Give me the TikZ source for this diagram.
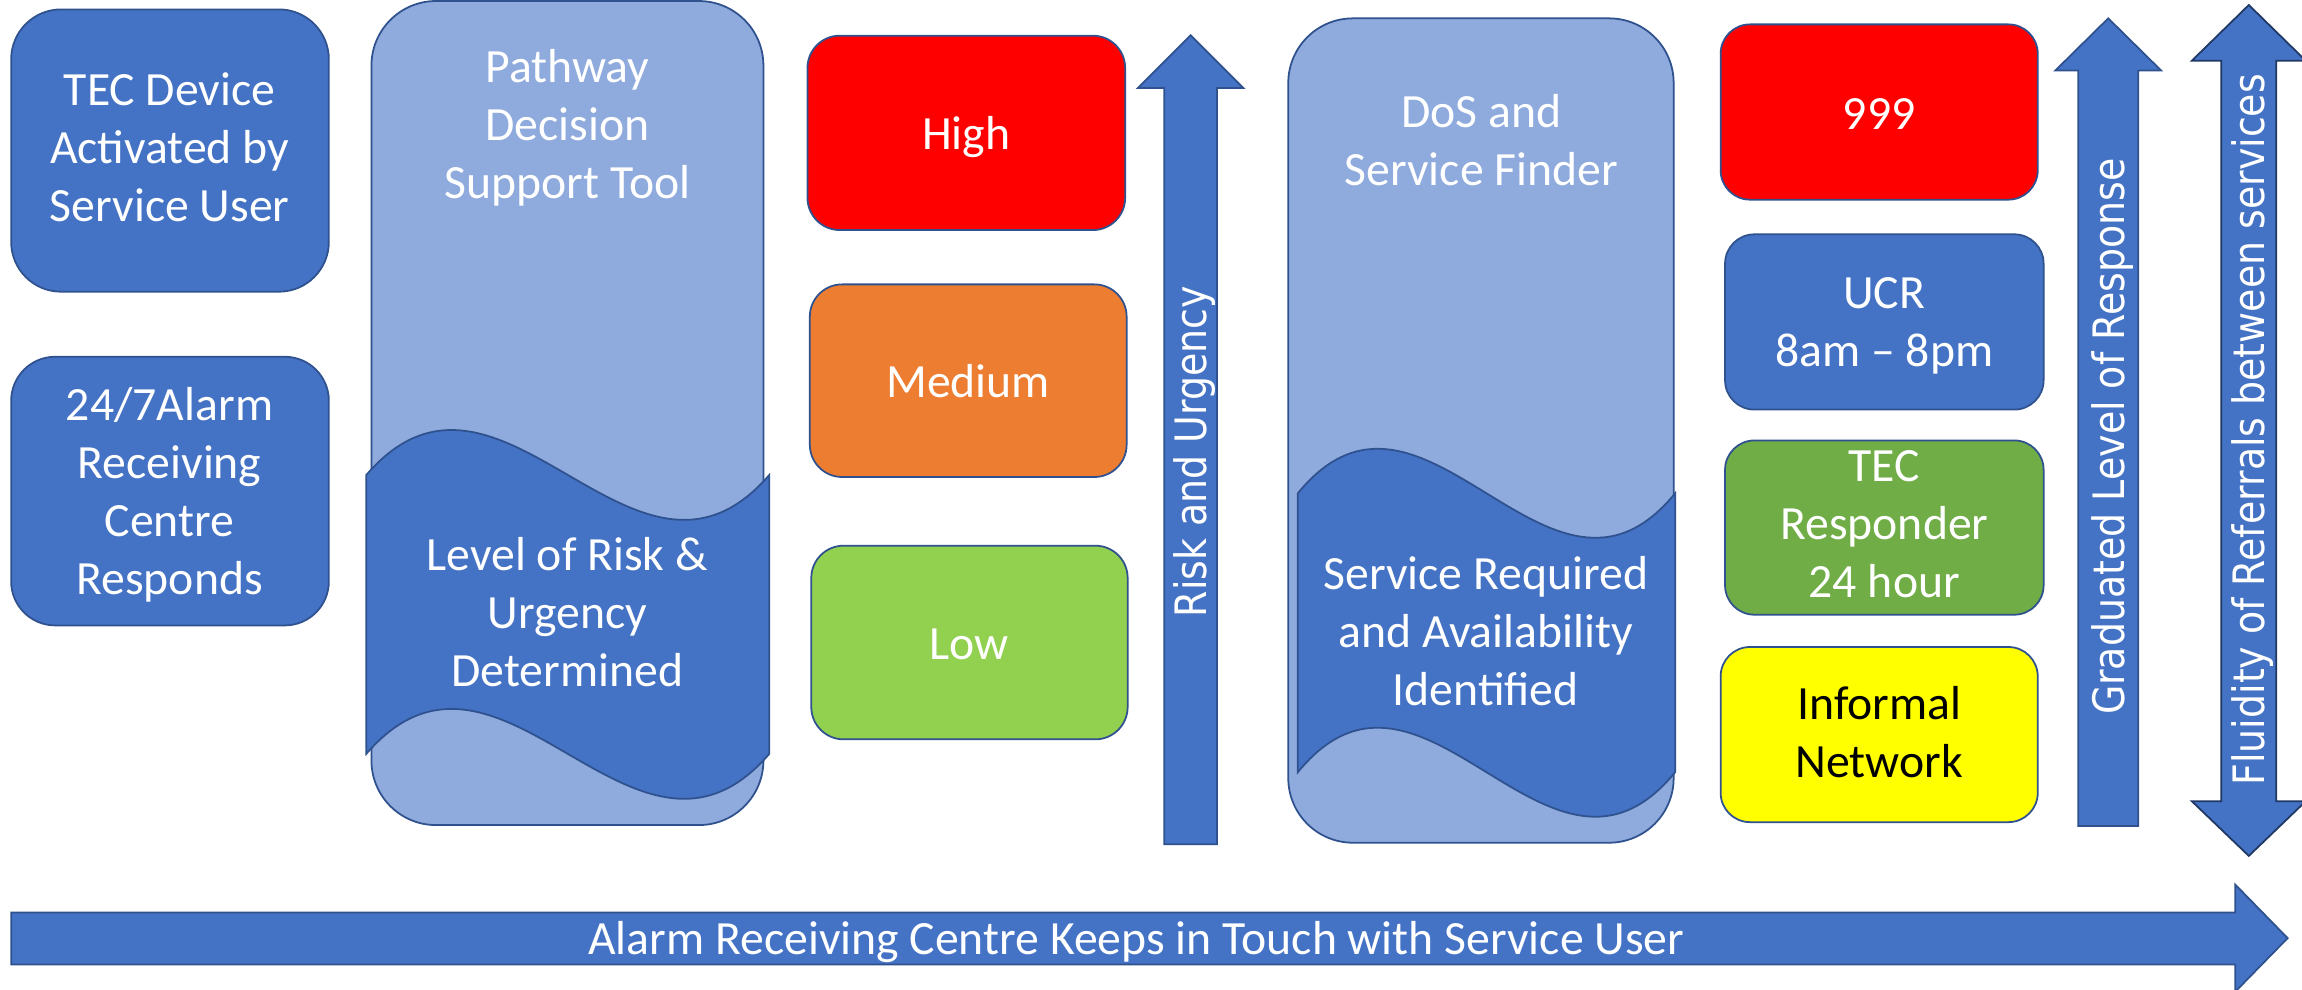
\documentclass[tikz,border=0pt]{standalone}
\usepackage{fontspec}
\usepackage{graphicx}
\setmainfont{Carlito}
\newfontfamily\arrowfont{DejaVu Sans}
\definecolor{dblue}{HTML}{4472C4}
\definecolor{lblue}{HTML}{8FAADC}
\definecolor{bord}{HTML}{2F528F}
\definecolor{navy}{HTML}{203864}
\definecolor{hred}{HTML}{FF0000}
\definecolor{morange}{HTML}{ED7D31}
\definecolor{lgreen}{HTML}{92D050}
\definecolor{tgreen}{HTML}{70AD47}
\definecolor{iyellow}{HTML}{FFFF00}
\begin{document}
\begin{tikzpicture}[x=1pt,y=-1pt,
  box/.style={draw=bord, line width=1.2pt, inner sep=0pt, rectangle},
  txt/.style={text=white, align=center, inner sep=0pt,
    font=\fontsize{32.5}{39.5}\selectfont,
    execute at begin node=\strut, execute at end node=\strut},
  vtxt/.style={rotate=90, text=white, inner sep=0pt, anchor=base,
    font=\arrowfont\fontsize{29.5}{35}\selectfont},
  arrowshape/.style={draw=bord, line width=1.2pt, fill=dblue},
  band/.style={draw=bord, line width=1.2pt, fill=dblue}]
\useasboundingbox (0,0) rectangle (1568,674.3);
\fill[white] (0,0) rectangle (1568,674.3);

% left column
\node[box, fill=dblue, minimum width=216.4pt, minimum height=192.3pt, rounded corners=34pt] (tec) at (115.8,102.55) {};
\node[txt] (tect) at (115.5,106) {TEC Device\\Activated by\\Service User};
\node[box, fill=dblue, minimum width=216.4pt, minimum height=183pt, rounded corners=30pt] (alarm) at (115.8,334.5) {};
\node[txt] (alarmt) at (115.5,340) {24/7Alarm\\Receiving\\Centre\\Responds};

% pathway
\node[box, fill=lblue, minimum width=267pt, minimum height=561.3pt, rounded corners=44pt] (path) at (386.5,281.35) {};
\draw[band] (249.5,323.5) .. controls (341,217.5) and (432.5,429.5) .. (524,323.5)
  -- (524,513.5) .. controls (432.5,619.5) and (341,407.5) .. (249.5,513.5) -- cycle;
\node[txt] (patht) at (386.5,90.5) {Pathway\\Decision\\Support Tool};
\node[txt] (levelt) at (386.5,423) {Level of Risk \&\\Urgency\\Determined};

% risk levels
\node[box, fill=hred, minimum width=216.4pt, minimum height=132.4pt, rounded corners=22pt] (high) at (658.2,90.5) {};
\node[txt] (hight) at (658.2,94) {High};
\node[box, fill=morange, minimum width=215.8pt, minimum height=131.2pt, rounded corners=22pt] (med) at (659.5,259.3) {};
\node[txt] (medt) at (659.5,263) {Medium};
\node[box, fill=lgreen, minimum width=215.5pt, minimum height=131.9pt, rounded corners=22pt] (low) at (660.35,437.65) {};
\node[txt] (lowt) at (660.35,441) {Low};

% risk arrow
\draw[arrowshape] (793,575) -- (793,60) -- (775,60) -- (811,24) -- (847,60) -- (829,60) -- (829,575) -- cycle;
\node[vtxt] (riskt) at (821.75,307.5) {\scalebox{0.875}[1]{Risk and Urgency}};

% DoS
\node[box, fill=lblue, minimum width=262.5pt, minimum height=561.5pt, rounded corners=44pt] (dos) at (1008.75,293.25) {};
\draw[band] (884,336) .. controls (969.7,231) and (1055.3,441) .. (1141,336)
  -- (1141,526) .. controls (1055.3,631) and (969.7,421) .. (884,526) -- cycle;
\node[txt] (dost) at (1009,101.5) {DoS and\\Service Finder};
\node[txt] (servt) at (1012,436) {Service Required\\and Availability\\Identified};

% responses
\node[box, fill=hred, minimum width=216pt, minimum height=119.4pt, rounded corners=20pt] (n999) at (1280,76.3) {};
\node[txt] (n999t) at (1280,80) {999};
\node[box, fill=dblue, minimum width=217pt, minimum height=119.4pt, rounded corners=20pt] (ucr) at (1283.5,219.3) {};
\node[txt] (ucrt) at (1283.5,225) {UCR\\8am – 8pm};
\node[box, fill=tgreen, minimum width=217pt, minimum height=118.7pt, rounded corners=20pt] (tecr) at (1283.5,359.35) {};
\node[txt] (tecrt) at (1283.5,363) {TEC\\Responder\\24 hour};
\node[box, fill=iyellow, minimum width=216pt, minimum height=119.3pt, rounded corners=20pt] (inf) at (1280,500.35) {};
\node[txt, text=black] (inft) at (1280,504.5) {Informal\\Network};

% graduated arrow
\draw[arrowshape] (1415.5,562.7) -- (1415.5,48) -- (1400,48) -- (1436,12.5) -- (1472,48) -- (1456.5,48) -- (1456.5,562.7) -- cycle;
\node[vtxt] (gradt) at (1447,297.5) {\scalebox{0.875}[1]{Graduated Level of Response}};

% fluidity double arrow
\draw[arrowshape, draw=navy] (1513,41.3) -- (1493,41.3) -- (1531.75,3.4) -- (1570.5,41.3) -- (1550.5,41.3)
  -- (1550.5,545.8) -- (1570.5,545.8) -- (1531.75,583) -- (1493,545.8) -- (1513,545.8) -- cycle;
\node[vtxt] (fluidt) at (1542.5,292.7) {\scalebox{0.875}[1]{Fluidity of Referrals between services}};

% bottom arrow
\draw[arrowshape] (7.6,621.5) -- (1522.5,621.5) -- (1522.5,602.5) -- (1558.2,639) -- (1522.5,675.5)
  -- (1522.5,657) -- (7.6,657) -- cycle;
\node[txt] (keept) at (774,642) {Alarm Receiving Centre Keeps in Touch with Service User};
\end{tikzpicture}
\end{document}
